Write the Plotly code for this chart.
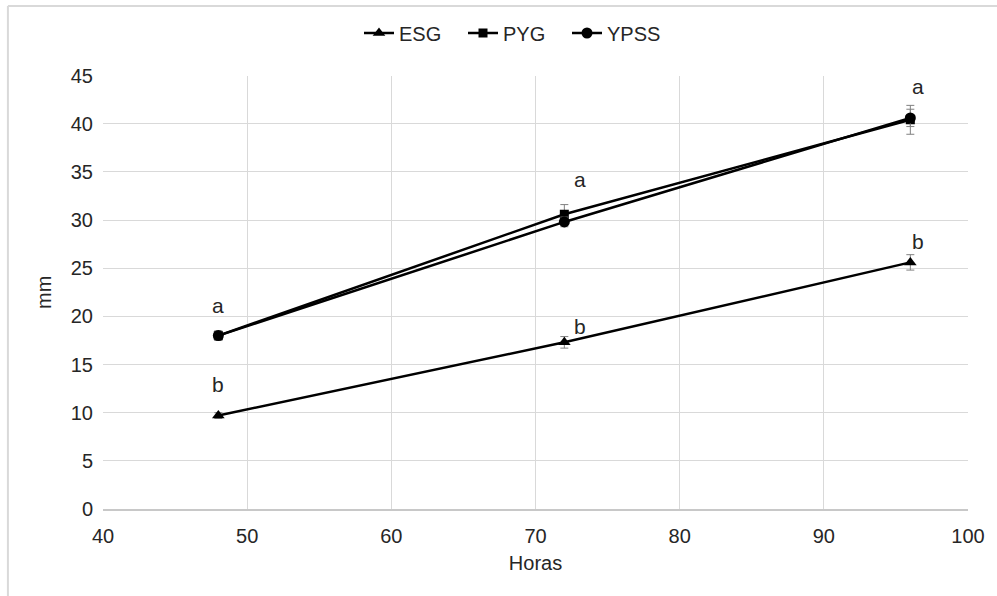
import plotly.graph_objects as go

horas = [48, 72, 96]
esg = [9.7, 17.3, 25.6]
pyg = [18.0, 30.6, 40.4]
ypss = [18.0, 29.8, 40.6]
esg_err = [0.3, 0.6, 0.8]
pyg_err = [0.5, 1.0, 1.5]
ypss_err = [0.4, 0.5, 0.9]

# significance letters
letters_top = ["a", "a", "a"]
letters_top_x = [48, 73.1, 96.5]
letters_top_y = [21.1, 34.2, 43.9]
letters_bot = ["b", "b", "b"]
letters_bot_x = [48, 73.1, 96.5]
letters_bot_y = [12.9, 18.9, 27.8]

xticks = [40, 50, 60, 70, 80, 90, 100]
yticks = [0, 5, 10, 15, 20, 25, 30, 35, 40, 45]

FONT = "Liberation Sans, Arial, sans-serif"
TXT = "#262626"
W, H = 997, 596
L, R, T, B = 103, 27, 75, 87
PW, PH = W - L - R, H - T - B

fig = go.Figure()

def add(name, y, err, symbol, size):
    fig.add_trace(go.Scatter(
        x=horas, y=y, name=name, mode="lines+markers",
        line=dict(color="black", width=2.5),
        marker=dict(symbol=symbol, size=size, color="black"),
        error_y=dict(type="data", array=err, visible=True,
                     color="#808080", thickness=1, width=4),
    ))

add("ESG", esg, esg_err, "triangle-up", 11)
add("PYG", pyg, pyg_err, "square", 9)
add("YPSS", ypss, ypss_err, "circle", 11)

for xs, ys, ts in [(letters_top_x, letters_top_y, letters_top),
                   (letters_bot_x, letters_bot_y, letters_bot)]:
    for x, y, t in zip(xs, ys, ts):
        fig.add_annotation(x=x, y=y, text=t, showarrow=False,
                           font=dict(family=FONT, size=21, color=TXT))

# outer chart border (top and left edges visible)
bx = (7.7 - L) / PW
by = (H - B - 5.5) / PH
fig.add_shape(type="line", xref="paper", yref="paper",
              x0=bx, x1=(W + 10 - L) / PW, y0=by, y1=by,
              line=dict(color="#d9d9d9", width=2))
fig.add_shape(type="line", xref="paper", yref="paper",
              x0=bx, x1=bx, y0=by, y1=-(B + 10) / PH,
              line=dict(color="#d9d9d9", width=2))

fig.update_layout(
    width=W, height=H,
    margin=dict(l=L, r=R, t=T, b=B),
    paper_bgcolor="white", plot_bgcolor="white",
    font=dict(family=FONT, size=20, color=TXT),
    showlegend=True,
    legend=dict(orientation="h", xref="container", yref="container",
                x=515 / W, xanchor="center", y=1 - 33 / H, yanchor="middle",
                font=dict(family=FONT, size=20, color=TXT),
                itemwidth=30, tracegroupgap=0, entrywidth=59),
    xaxis=dict(range=[40, 100], tickvals=xticks, showgrid=True,
               gridcolor="#d9d9d9", gridwidth=1, zeroline=False,
               showline=True, linecolor="#c8c8c8", linewidth=1.5,
               ticks="", ticklabelstandoff=8, tickfont=dict(size=20, color=TXT),
               title=dict(text="Horas", font=dict(size=20, color=TXT), standoff=10)),
    yaxis=dict(range=[0, 45], tickvals=yticks, showgrid=True,
               gridcolor="#d9d9d9", gridwidth=1, zeroline=False,
               showline=False, ticks="", ticklabelstandoff=9,
               tickfont=dict(size=20, color=TXT),
               title=dict(text="mm", font=dict(size=20, color=TXT), standoff=13)),
)

fig.write_html("out.html", config={"displayModeBar": False},
               post_script="document.body.style.margin='0';")
